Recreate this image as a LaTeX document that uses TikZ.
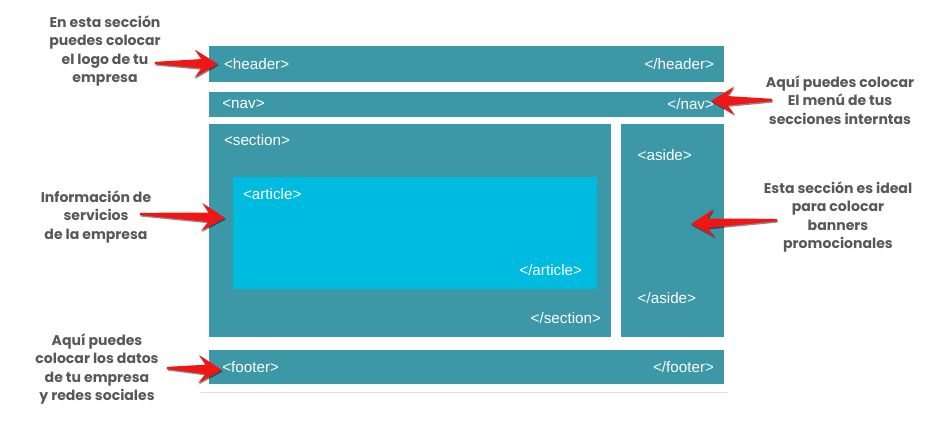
\documentclass[tikz,border=0pt]{standalone}
\usepackage{fontspec}
\setmainfont{Liberation Sans}
\newfontfamily\notefont{Poppins}
\usetikzlibrary{positioning,calc,shadows}

\definecolor{tealbox}{RGB}{60,151,167}
\definecolor{articlebox}{RGB}{0,187,224}
\definecolor{notegray}{RGB}{88,88,90}
\definecolor{pointerred}{RGB}{240,22,22}
\definecolor{rulegray}{RGB}{222,222,222}

% tapered red pointer from #1 (tail) to #2 (tip)
\newcommand{\pointer}[2]{%
  \fill[pointerred, drop shadow={shadow xshift=0.6pt, shadow yshift=-1.2pt, opacity=0.45, fill=black}]
    ($(#1)!1pt!90:(#2)$) -- ($(#2)!0.5cm!(#1)!4pt!-90:(#1)$) -- ($(#2)!0.7cm!(#1)!0.42cm!-90:(#1)$) -- (#2)
    -- ($(#2)!0.7cm!(#1)!0.42cm!90:(#1)$) -- ($(#2)!0.5cm!(#1)!4pt!90:(#1)$) -- ($(#1)!1pt!-90:(#2)$) -- cycle;}

\begin{document}
\begin{tikzpicture}[
    block/.style={rectangle, fill=tealbox, inner sep=0pt},
    tag/.style={text=white, inner sep=0pt, font=\fontsize{13}{15}\selectfont},
    note/.style={align=center, text=notegray, inner sep=0pt, font=\notefont\bfseries\fontsize{12}{15.6}\selectfont}
]
\useasboundingbox (0,0) rectangle (27.99,12.66);

% Header
\node[block, minimum width=15.45cm, minimum height=1.08cm] (header) at (13.995,10.74) {};
\node[tag, right=0.45cm of header.west] (headerOpen) {<header>};
\node[tag, left=0.3cm of header.east] (headerClose) {</header>};

% Nav
\node[block, minimum width=15.45cm, minimum height=0.75cm] (nav) at (13.995,9.525) {};
\node[tag, right=0.4cm of nav.west] (navOpen) {<nav>};
\node[tag, left=0.3cm of nav.east] (navClose) {</nav>};

% Section and article
\node[block, minimum width=12.06cm, minimum height=6.39cm] (section) at (12.30,5.745) {};
\node[tag, below right=0.3cm and 0.45cm of section.north west] (sectionOpen) {<section>};
\node[tag, above left=0.4cm and 0.3cm of section.south east] (sectionClose) {</section>};
\node[rectangle, fill=articlebox, inner sep=0pt, minimum width=10.92cm, minimum height=3.36cm] (article) at (12.45,5.67) {};
\node[tag, below right=0.35cm and 0.3cm of article.north west] (articleOpen) {<article>};
\node[tag, above left=0.4cm and 0.45cm of article.south east] (articleClose) {</article>};

% Aside
\node[block, minimum width=3.09cm, minimum height=6.39cm] (aside) at (20.175,5.745) {};
\node[tag, below right=0.75cm and 0.5cm of aside.north west] (asideOpen) {<aside>};
\node[tag, above right=1.0cm and 0.5cm of aside.south west] (asideClose) {</aside>};

% Footer
\node[block, minimum width=15.45cm, minimum height=1.02cm] (footer) at (13.995,1.65) {};
\node[tag, right=0.4cm of footer.west] (footerOpen) {<footer>};
\node[tag, left=0.3cm of footer.east] (footerClose) {</footer>};
\draw[rulegray, line width=1.2pt] ([xshift=-0.27cm, yshift=-0.24cm]footer.south west) -- ([xshift=0.12cm, yshift=-0.24cm]footer.south east);

% Notes
\node[note] (headerNote) at (3.15,11.13) {En esta sección\\puedes colocar\\el logo de tu\\empresa};
\node[note] (navNote) at (25.2,9.66) {Aquí puedes colocar\\El menú de tus\\secciones interntas};
\node[note] (sectionNote) at (2.88,6.15) {Información de\\servicios\\de la empresa};
\node[note] (asideNote) at (25.14,6.15) {Esta sección es ideal\\para colocar\\banners\\promocionales};
\node[note] (footerNote) at (2.91,1.59) {Aquí puedes\\colocar los datos\\de tu empresa\\y redes sociales};

% Pointers
\coordinate (headerTail) at (4.65,10.77);
\coordinate (headerTip) at (6.54,10.74);
\coordinate (navTail) at (23.16,9.66);
\coordinate (navTip) at (21.33,9.63);
\coordinate (sectionTail) at (4.2,6.24);
\coordinate (sectionTip) at (6.75,6.12);
\coordinate (asideTail) at (23.31,6.06);
\coordinate (asideTip) at (20.73,5.94);
\coordinate (footerTail) at (5.01,1.62);
\coordinate (footerTip) at (6.66,1.56);
\pointer{headerTail}{headerTip}
\pointer{navTail}{navTip}
\pointer{sectionTail}{sectionTip}
\pointer{asideTail}{asideTip}
\pointer{footerTail}{footerTip}

\end{tikzpicture}
\end{document}
